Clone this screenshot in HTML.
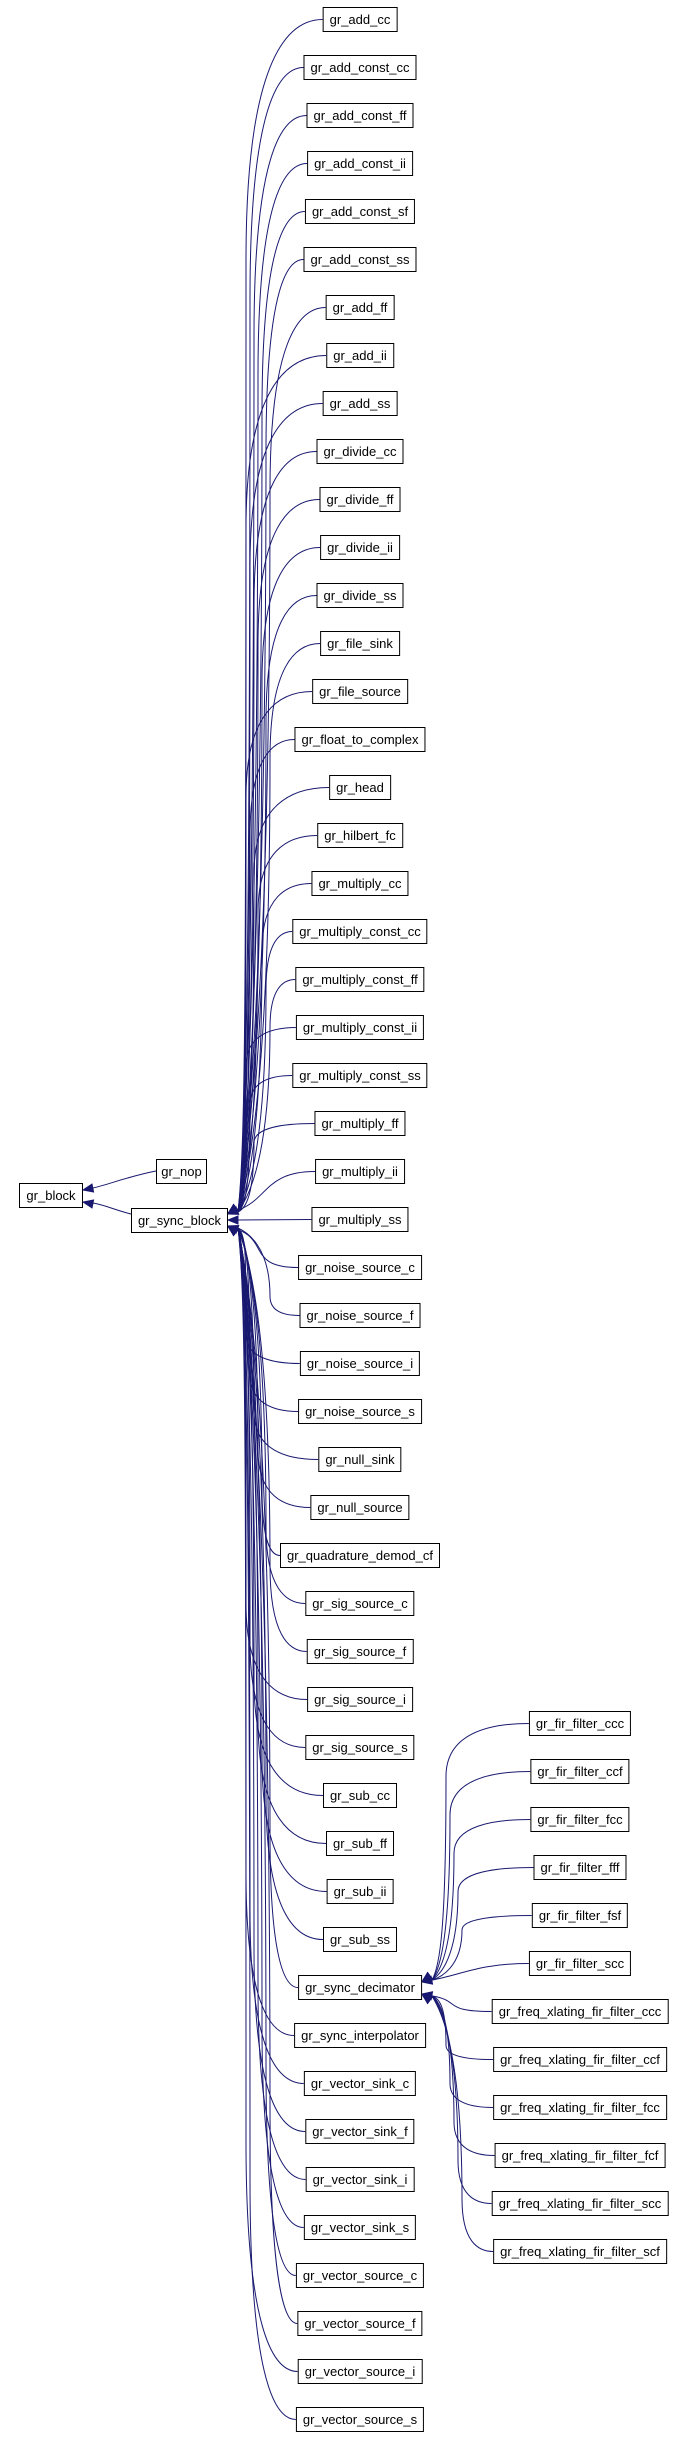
<!DOCTYPE html>
<html><head><meta charset="utf-8"><style>
html,body{margin:0;padding:0;background:#fff;}
body{width:686px;height:2438px;position:relative;overflow:hidden;font-family:"Liberation Sans",Arial,sans-serif;}
.n{position:absolute;height:23px;line-height:24px;border:1px solid #000;background:#fff;font-size:13px;padding:0 6px;white-space:nowrap;color:#000;transform:translateX(-50%);}
.f{transform:none;}
svg{position:absolute;left:0;top:0;}
</style></head><body>
<svg id="s" width="686" height="2438"></svg>
<div id="nodes"></div>
<div class="n f" style="left:19px;top:1183px;padding:0;width:62px;text-align:center">gr_block</div>
<div class="n f" style="left:156px;top:1159px;padding:0;width:49px;text-align:center">gr_nop</div>
<div class="n f" style="left:131px;top:1208px;padding:0;width:95px;text-align:center">gr_sync_block</div>
<script>
var main=["gr_add_cc","gr_add_const_cc","gr_add_const_ff","gr_add_const_ii","gr_add_const_sf","gr_add_const_ss","gr_add_ff","gr_add_ii","gr_add_ss","gr_divide_cc","gr_divide_ff","gr_divide_ii","gr_divide_ss","gr_file_sink","gr_file_source","gr_float_to_complex","gr_head","gr_hilbert_fc","gr_multiply_cc","gr_multiply_const_cc","gr_multiply_const_ff","gr_multiply_const_ii","gr_multiply_const_ss","gr_multiply_ff","gr_multiply_ii","gr_multiply_ss","gr_noise_source_c","gr_noise_source_f","gr_noise_source_i","gr_noise_source_s","gr_null_sink","gr_null_source","gr_quadrature_demod_cf","gr_sig_source_c","gr_sig_source_f","gr_sig_source_i","gr_sig_source_s","gr_sub_cc","gr_sub_ff","gr_sub_ii","gr_sub_ss","gr_sync_decimator","gr_sync_interpolator","gr_vector_sink_c","gr_vector_sink_f","gr_vector_sink_i","gr_vector_sink_s","gr_vector_source_c","gr_vector_source_f","gr_vector_source_i","gr_vector_source_s"];
var dec=["gr_fir_filter_ccc","gr_fir_filter_ccf","gr_fir_filter_fcc","gr_fir_filter_fff","gr_fir_filter_fsf","gr_fir_filter_scc","gr_freq_xlating_fir_filter_ccc","gr_freq_xlating_fir_filter_ccf","gr_freq_xlating_fir_filter_fcc","gr_freq_xlating_fir_filter_fcf","gr_freq_xlating_fir_filter_scc","gr_freq_xlating_fir_filter_scf"];
var c=document.getElementById('nodes'),s=document.getElementById('s');
function mk(t,cx,top){var d=document.createElement('div');d.className='n';d.textContent=t;d.style.left=cx+'px';d.style.top=top+'px';c.appendChild(d);return d;}
var M=[],D=[];
main.forEach(function(t,i){M.push(mk(t,360,7+48*i));});
dec.forEach(function(t,i){D.push(mk(t,580,1711+48*i));});
var col="#191970",out="";
function arrow(x,y,dx,dy){var L=Math.sqrt(dx*dx+dy*dy)||1;dx/=L;dy/=L;var bx=x+dx*10,by=y+dy*10,px=-dy*4,py=dx*4;
 return '<polygon points="'+x+','+y+' '+(bx+px)+','+(by+py)+' '+(bx-px)+','+(by-py)+'" fill="'+col+'" stroke="'+col+'"/>';}
function edges(nodes,px,py,base){
 nodes.forEach(function(d,i){var r=d.getBoundingClientRect();var xl=r.left,cy=r.top+r.height/2;var dd=cy-py;
  var ay=Math.abs(dd)<8?py:(dd<0?py-6:py+6);var ex=px+10;
  var p;
  if(Math.abs(dd)<8){p='M'+xl+','+cy+' L'+ex+','+ay;out+=arrow(px,ay,1,0);}
  else if(Math.abs(dd)<70){p='M'+xl+','+cy+' C'+(xl-50)+','+cy+' '+(ex+30)+','+(ay+dd*0.3)+' '+ex+','+(ay+dd*0.08);out+=arrow(px,ay,ex+30-px,dd*0.3);}
  else{var xv=base+(i%7)*4;
   p='M'+xl+','+cy+' C'+((xl+xv)/2)+','+cy+' '+xv+','+(cy-dd*0.04)+' '+xv+','+(cy-dd*0.2)+' C'+xv+','+(ay+dd*0.2)+' '+(ex+8)+','+(ay+dd*0.06)+' '+ex+','+(ay+(dd<0?-2:2));
   out+=arrow(px,ay,8,dd<0?-6:6);}
  out+='<path d="'+p+'" fill="none" stroke="'+col+'" stroke-width="1"/>';});
}
edges(M,228,1220,246);
edges(D,422,1988,446);
out+='<path d="M156,1171 C130,1176 110,1184 93,1188" fill="none" stroke="'+col+'"/>'+arrow(83,1190,10,-2);
out+='<path d="M131,1214 C115,1210 105,1205 93,1203" fill="none" stroke="'+col+'"/>'+arrow(83,1202,10,2);
s.innerHTML=out;
</script>
</body></html>
